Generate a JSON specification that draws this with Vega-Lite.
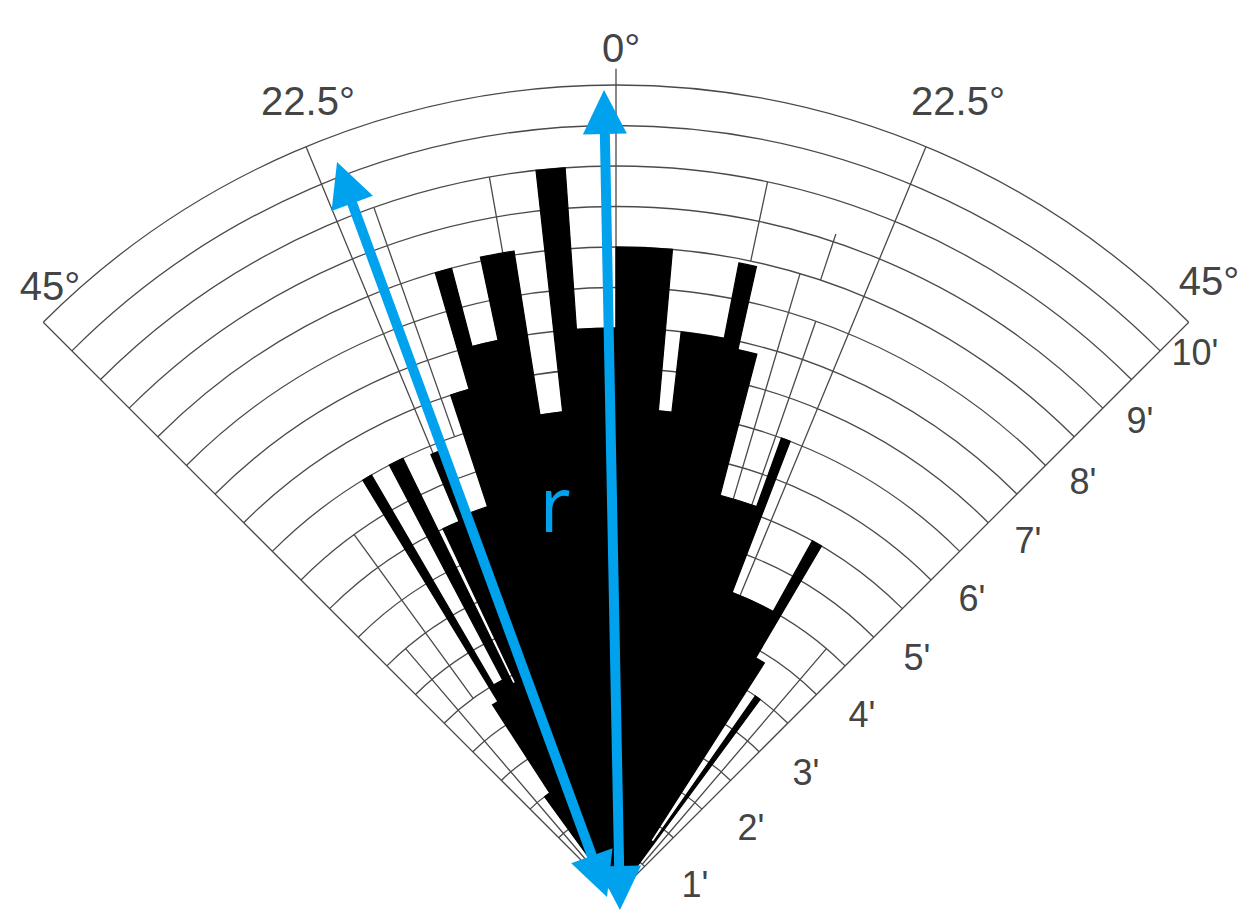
{
  "$schema": "https://vega.github.io/schema/vega-lite/v6.json",
  "width": 1255,
  "height": 920,
  "autosize": "none",
  "padding": 0,
  "background": "white",
  "config": {"view": {"stroke": null}},
  "datasets": {
    "bars": [
      {"t1": -36.0, "t2": -33.0, "r": 1.5},
      {"t1": -33.0, "t2": -31.4, "r": 2.8},
      {"t1": -31.4, "t2": -30.2, "r": 6.0},
      {"t1": -30.2, "t2": -27.8, "r": 3.0},
      {"t1": -27.8, "t2": -26.0, "r": 6.0},
      {"t1": -26.0, "t2": -25.3, "r": 2.9},
      {"t1": -25.3, "t2": -22.8, "r": 5.0},
      {"t1": -22.8, "t2": -21.3, "r": 5.9},
      {"t1": -21.3, "t2": -18.3, "r": 5.05},
      {"t1": -18.3, "t2": -16.2, "r": 6.5},
      {"t1": -16.2, "t2": -14.7, "r": 8.0},
      {"t1": -14.7, "t2": -12.0, "r": 7.0},
      {"t1": -12.0, "t2": -9.0, "r": 8.05},
      {"t1": -9.0, "t2": -6.3, "r": 6.0},
      {"t1": -6.3, "t2": -4.0, "r": 9.0},
      {"t1": -4.0, "t2": 0.0, "r": 7.0},
      {"t1": 0.0, "t2": 5.0, "r": 8.0},
      {"t1": 5.0, "t2": 6.6, "r": 6.0},
      {"t1": 6.6, "t2": 11.0, "r": 7.0},
      {"t1": 11.0, "t2": 12.6, "r": 7.95},
      {"t1": 12.6, "t2": 14.6, "r": 6.9},
      {"t1": 14.6, "t2": 19.9, "r": 5.1},
      {"t1": 19.9, "t2": 21.0, "r": 6.0},
      {"t1": 21.0, "t2": 29.0, "r": 4.0},
      {"t1": 29.0, "t2": 30.5, "r": 5.0},
      {"t1": 30.5, "t2": 32.6, "r": 3.4},
      {"t1": 32.6, "t2": 35.0, "r": 0.8},
      {"t1": 35.0, "t2": 36.4, "r": 3.0}
    ],
    "rings": [
      {"r": 0.5, "t1": -45, "t2": 45}, {"r": 1.0, "t1": -45, "t2": 45},
      {"r": 1.5, "t1": -45, "t2": 45}, {"r": 2.0, "t1": -45, "t2": 45},
      {"r": 2.5, "t1": -45, "t2": 45}, {"r": 3.0, "t1": -45, "t2": 45},
      {"r": 3.5, "t1": -45, "t2": 45}, {"r": 4.0, "t1": -45, "t2": 45},
      {"r": 4.5, "t1": -45, "t2": 45}, {"r": 5.0, "t1": -45, "t2": 45},
      {"r": 5.5, "t1": -45, "t2": 45}, {"r": 6.0, "t1": -45, "t2": 45},
      {"r": 6.5, "t1": -45, "t2": 45}, {"r": 7.0, "t1": -45, "t2": 45},
      {"r": 7.5, "t1": -45, "t2": 45}, {"r": 8.0, "t1": -45, "t2": 45},
      {"r": 8.5, "t1": -45, "t2": 45}, {"r": 9.0, "t1": -45, "t2": 45},
      {"r": 9.5, "t1": -45, "t2": 45}, {"r": 10.0, "t1": -45, "t2": 45}
    ],
    "spokes": [
      {"a": -45, "r1": 0, "r2": 10},
      {"a": -22.5, "r1": 0, "r2": 10},
      {"a": 0, "r1": 0, "r2": 10.2},
      {"a": 22.5, "r1": 0, "r2": 10},
      {"a": 45, "r1": 0, "r2": 10},
      {"a": -40.5, "r1": 0.5, "r2": 4},
      {"a": -36, "r1": 3, "r2": 5.5},
      {"a": -19.4, "r1": 6, "r2": 9},
      {"a": -10, "r1": 8, "r2": 9},
      {"a": 12, "r1": 8, "r2": 9},
      {"a": 18.4, "r1": 8, "r2": 8.6},
      {"a": 16.5, "r1": 5.1, "r2": 8},
      {"a": 19.2, "r1": 5, "r2": 7.5},
      {"a": 40.5, "r1": 0.5, "r2": 4}
    ],
    "shafts": [
      {"x": -3.338, "y": 8.759, "x2": -0.217, "y2": 0.265},
      {"x": -0.142, "y": 9.630, "x2": 0.043, "y2": 0.123}
    ],
    "heads": [
      {"x": -3.444, "y": 9.049, "ang": -20.17},
      {"x": -0.111, "y": -0.025, "ang": 159.83},
      {"x": -0.148, "y": 9.938, "ang": -1.12},
      {"x": 0.049, "y": -0.185, "ang": 178.88}
    ],
    "angleLabels": [
      {"x": 0.062, "y": 10.284, "label": "0°"},
      {"x": -3.802, "y": 9.630, "label": "22.5°"},
      {"x": 4.222, "y": 9.630, "label": "22.5°"},
      {"x": -6.988, "y": 7.346, "label": "45°"},
      {"x": 7.321, "y": 7.407, "label": "45°"}
    ],
    "ringLabels": [
      {"x": 0.975, "y": -0.025, "label": "1'"},
      {"x": 1.667, "y": 0.679, "label": "2'"},
      {"x": 2.346, "y": 1.358, "label": "3'"},
      {"x": 3.037, "y": 2.074, "label": "4'"},
      {"x": 3.716, "y": 2.778, "label": "5'"},
      {"x": 4.395, "y": 3.506, "label": "6'"},
      {"x": 5.086, "y": 4.222, "label": "7'"},
      {"x": 5.765, "y": 4.951, "label": "8'"},
      {"x": 6.469, "y": 5.704, "label": "9'"},
      {"x": 7.148, "y": 6.543, "label": "10'"}
    ],
    "rlabel": [
      {"x": -0.753, "y": 4.481, "label": "r"}
    ]
  },
  "layer": [
    {
      "data": {"name": "rings"},
      "mark": {"type": "arc", "filled": false, "stroke": "#4a4a4a", "strokeWidth": 1.3},
      "encoding": {
        "x": {"datum": 0, "type": "quantitative", "scale": {"domain": [-7.6049, 7.8889], "nice": false, "zero": false}, "axis": null},
        "y": {"datum": 0, "type": "quantitative", "scale": {"domain": [-0.3086, 11.0494], "nice": false, "zero": false}, "axis": null},
        "theta": {"field": "t1", "type": "quantitative", "stack": null, "scale": {"type": "linear", "domain": [-180, 180], "range": [-3.141592653589793, 3.141592653589793]}},
        "theta2": {"field": "t2"},
        "radius": {"field": "r", "type": "quantitative", "scale": {"type": "linear", "domain": [0, 10], "range": [0, 810], "zero": true}},
        "radius2": {"field": "r"}
      }
    },
    {
      "data": {"name": "spokes"},
      "mark": {"type": "arc", "filled": false, "stroke": "#4a4a4a", "strokeWidth": 1.3},
      "encoding": {
        "x": {"datum": 0, "type": "quantitative"},
        "y": {"datum": 0, "type": "quantitative"},
        "theta": {"field": "a", "type": "quantitative", "stack": null},
        "theta2": {"field": "a"},
        "radius": {"field": "r2", "type": "quantitative"},
        "radius2": {"field": "r1"}
      }
    },
    {
      "data": {"name": "bars"},
      "mark": {"type": "arc", "fill": "black", "stroke": "black", "strokeWidth": 1.2, "strokeJoin": "miter"},
      "encoding": {
        "x": {"datum": 0, "type": "quantitative"},
        "y": {"datum": 0, "type": "quantitative"},
        "theta": {"field": "t1", "type": "quantitative", "stack": null},
        "theta2": {"field": "t2"},
        "radius": {"field": "r", "type": "quantitative"}
      }
    },
    {
      "data": {"name": "angleLabels"},
      "mark": {"type": "text", "align": "center", "baseline": "alphabetic", "font": "Liberation Sans Narrow, Liberation Sans, sans-serif", "fontSize": 40, "color": "#444444"},
      "encoding": {
        "x": {"field": "x", "type": "quantitative"},
        "y": {"field": "y", "type": "quantitative"},
        "text": {"field": "label"}
      }
    },
    {
      "data": {"name": "ringLabels"},
      "mark": {"type": "text", "align": "center", "baseline": "alphabetic", "font": "Liberation Sans Narrow, Liberation Sans, sans-serif", "fontSize": 36, "color": "#444444"},
      "encoding": {
        "x": {"field": "x", "type": "quantitative"},
        "y": {"field": "y", "type": "quantitative"},
        "text": {"field": "label"}
      }
    },
    {
      "data": {"name": "shafts"},
      "mark": {"type": "rule", "color": "#00A2EE", "strokeWidth": 10, "strokeCap": "butt"},
      "encoding": {
        "x": {"field": "x", "type": "quantitative"},
        "y": {"field": "y", "type": "quantitative"},
        "x2": {"field": "x2"},
        "y2": {"field": "y2"}
      }
    },
    {
      "data": {"name": "heads"},
      "mark": {"type": "point", "shape": "M0,0L1,2L-1,2Z", "filled": true, "color": "#00A2EE", "opacity": 1, "size": 1936, "strokeWidth": 0},
      "encoding": {
        "x": {"field": "x", "type": "quantitative"},
        "y": {"field": "y", "type": "quantitative"},
        "angle": {"field": "ang", "type": "quantitative", "scale": null}
      }
    },
    {
      "data": {"name": "rlabel"},
      "mark": {"type": "text", "align": "center", "baseline": "alphabetic", "font": "Open Sans", "fontSize": 76, "color": "#00A2EE"},
      "encoding": {
        "x": {"field": "x", "type": "quantitative"},
        "y": {"field": "y", "type": "quantitative"},
        "text": {"field": "label"}
      }
    }
  ]
}
